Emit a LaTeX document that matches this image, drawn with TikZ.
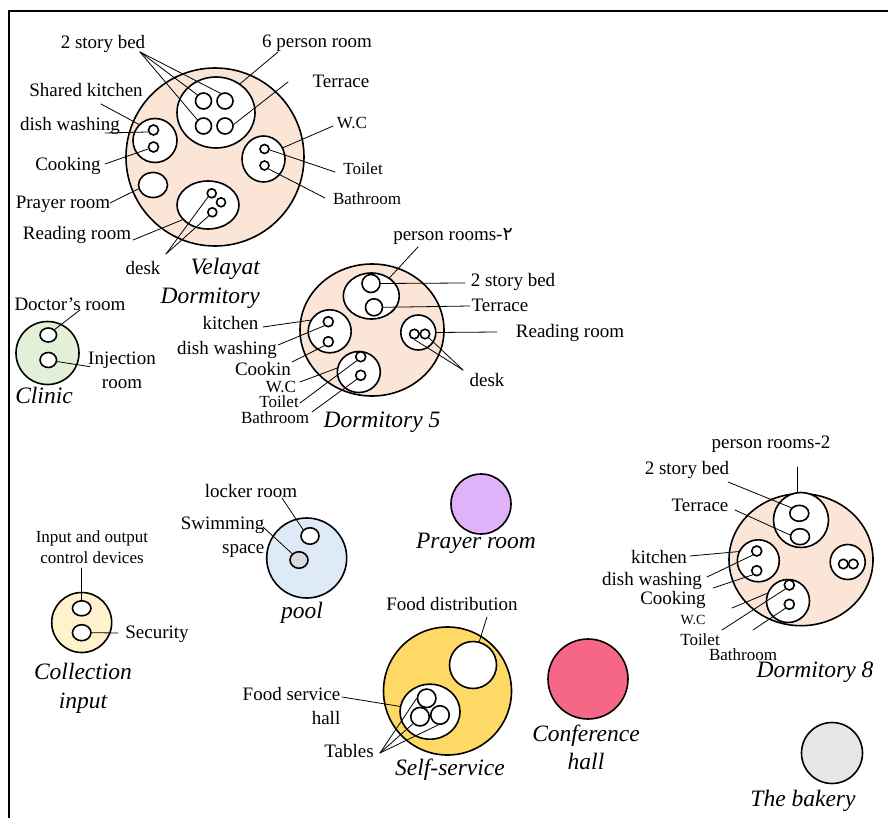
\documentclass[tikz,border=0pt]{standalone}
\usepackage{fontspec}
\setmainfont{Liberation Serif}
\newfontfamily\dvs{DejaVu Sans}
\usetikzlibrary{shapes.geometric}
\definecolor{peach}{RGB}{251,229,214}
\definecolor{mint}{RGB}{226,240,217}
\definecolor{cream}{RGB}{255,242,204}
\definecolor{skyb}{RGB}{222,235,247}
\definecolor{lilac}{RGB}{224,178,250}
\definecolor{gold}{RGB}{255,217,102}
\definecolor{rose}{RGB}{246,102,134}
\definecolor{ash}{RGB}{230,230,230}
\definecolor{stone}{RGB}{217,217,217}
\begin{document}
\begin{tikzpicture}[x=1pt,y=-1pt,line cap=round,
    rnd/.style={circle,draw,line width=1.6pt,inner sep=0pt,fill=white,minimum size=#1},
    ovl/.style 2 args={ellipse,draw,line width=1.6pt,inner sep=0pt,fill=white,minimum width=#1,minimum height=#2},
    lbl/.style={font=\fontsize{19}{24}\selectfont,inner sep=0.5pt,yshift=-2.5pt},
    sml/.style={font=\fontsize{17}{21}\selectfont,inner sep=0.5pt,yshift=-2.5pt},
    ttl/.style={font=\fontsize{23.5}{28.5}\selectfont\itshape,inner sep=1pt,yshift=-1.5pt},
    lead/.style={line width=0.8pt}]
  \useasboundingbox (0,0) rectangle (888,818);
  \draw[line width=1.2pt] (9,818) -- (9,11) -- (888,11);

  % Velayat dormitory
  \node[rnd=178,fill=peach] (vel) at (215,157) {};
  \node[ovl={78}{71}] (vel6) at (216,112.5) {};
  \node[rnd=16] (vbA) at (203.5,101) {};
  \node[rnd=16] (vbB) at (225,101) {};
  \node[rnd=16] (vbC) at (203.5,126) {};
  \node[rnd=16] (vbD) at (225,126) {};
  \node[rnd=44] (vk) at (155,140.5) {};
  \node[rnd=10] (vk1) at (153.5,130) {};
  \node[rnd=10] (vk2) at (153.5,147) {};
  \node[ovl={29}{25}] (vp) at (153,185) {};
  \node[ovl={43}{46}] (vw) at (263.5,159) {};
  \node[rnd=9] (vw1) at (264.5,149) {};
  \node[rnd=9] (vw2) at (264.5,165.5) {};
  \node[ovl={62}{48}] (vr) at (208,205) {};
  \node[rnd=9] (vd1) at (211.7,193.3) {};
  \node[rnd=9] (vd2) at (221,202.3) {};
  \node[rnd=9] (vd3) at (212.3,212.3) {};

  \node[lbl] (vlBed) at (103,41) {2 story bed};
  \node[lbl] (vl6) at (317,41) {6 person room};
  \node[lbl] (vlTer) at (341,79) {Terrace};
  \node[lbl] (vlShk) at (86,88) {Shared kitchen};
  \node[lbl] (vlDish) at (70,123) {dish washing};
  \node[lbl] (vlCook) at (68,163) {Cooking};
  \node[lbl] (vlPray) at (63,202) {Prayer room};
  \node[lbl] (vlRead) at (77,232) {Reading room};
  \node[lbl] (vlDesk) at (143,266) {desk};
  \node[sml] (vlWC) at (352,121) {W.C};
  \node[sml] (vlToi) at (363,166) {Toilet};
  \node[sml] (vlBath) at (367,196) {Bathroom};
  \node[ttl,align=right,anchor=east] (velT) at (261,282) {Velayat\\Dormitory};

  \coordinate (vBedT) at (140,52);
  \coordinate (v6T) at (278,52);
  \coordinate (vTerT) at (288,82);
  \coordinate (vShkT) at (101,104);
  \coordinate (vDishT) at (105,133);
  \coordinate (vCookT) at (105,164);
  \coordinate (vPrayT) at (110,203);
  \coordinate (vReadT) at (133,240);
  \coordinate (vDeskT) at (166,254);
  \coordinate (vWCT) at (333,126);
  \coordinate (vToiT) at (335,172);
  \coordinate (vBathT) at (325,198);
  \draw[lead] (vBedT) -- (vbA.north west);
  \draw[lead] (vBedT) -- (vbB.120);
  \draw[lead] (vBedT) -- (vbC.north west);
  \draw[lead] (v6T) -- (vel6.50);
  \draw[lead] (vTerT) -- (vbD.10);
  \draw[lead] (vShkT) -- (vk.north west);
  \draw[lead] (vDishT) -- (vk1.200);
  \draw[lead] (vCookT) -- (vk2.200);
  \draw[lead] (vPrayT) -- (vp.195);
  \draw[lead] (vReadT) -- (vr.210);
  \draw[lead] (vDeskT) -- (vd1.225);
  \draw[lead] (vDeskT) -- (vd3.225);
  \draw[lead] (vWCT) -- (vw.30);
  \draw[lead] (vToiT) -- (vw1.-10);
  \draw[lead] (vBathT) -- (vw2.-40);

  % Dormitory 5
  \node[ovl={144}{132},fill=peach] (d5) at (372,330) {};
  \node[ovl={56}{46}] (d5r) at (371.3,296) {};
  \node[rnd=18] (d5b1) at (371,283.5) {};
  \node[rnd=17] (d5b2) at (374,307.3) {};
  \node[rnd=43] (d5k) at (329.7,331.3) {};
  \node[rnd=10] (d5k1) at (328.3,321.7) {};
  \node[rnd=10] (d5k2) at (328.3,341.7) {};
  \node[rnd=35] (d5rd) at (418.3,332.5) {};
  \node[rnd=9.5] (d5d1) at (414.3,334) {};
  \node[rnd=9.5] (d5d2) at (425,334) {};
  \node[ovl={43}{41}] (d5w) at (358.8,372) {};
  \node[rnd=10] (d5w1) at (360.7,356.7) {};
  \node[rnd=10] (d5w2) at (360.7,375.3) {};

  \node[lbl] (f5Per) at (453,234) {person rooms-{\dvs ۲}};
  \node[lbl] (f5Bed) at (513,279) {2 story bed};
  \node[lbl] (f5Ter) at (500,303) {Terrace};
  \node[lbl] (f5Read) at (570,330) {Reading room};
  \node[lbl] (f5Desk) at (487,377) {desk};
  \node[lbl] (f5Kit) at (230.5,321) {kitchen};
  \node[lbl] (f5Dish) at (227,347) {dish washing};
  \node[lbl] (f5Cook) at (263,366) {Cookin};
  \node[sml] (f5WC) at (281,384) {W.C};
  \node[sml] (f5Toi) at (279,399.5) {Toilet};
  \node[sml] (f5Bath) at (275,415.5) {Bathroom};
  \node[ttl] (d5T) at (382,421) {Dormitory 5};

  \coordinate (f5PerT) at (418,247);
  \coordinate (f5BedT) at (465,283);
  \coordinate (f5TerT) at (470,306);
  \coordinate (f5ReadT) at (497,332);
  \coordinate (f5DeskT) at (463,370);
  \coordinate (f5KitT) at (263,327);
  \coordinate (f5DishT) at (278,345);
  \coordinate (f5CookT) at (292,362);
  \coordinate (f5WCT) at (300,382);
  \coordinate (f5ToiT) at (300,403);
  \coordinate (f5BathT) at (312,412);
  \draw[lead] (f5PerT) -- (d5r.45);
  \draw[lead] (d5b1.east) -- (f5BedT);
  \draw[lead] (d5b2.east) -- (f5TerT);
  \draw[lead] (d5rd.east) -- (f5ReadT);
  \draw[lead] (f5DeskT) -- (d5d1.south);
  \draw[lead] (f5DeskT) -- (d5d2.-45);
  \draw[lead] (f5KitT) -- (d5k.150);
  \draw[lead] (f5DishT) -- (d5k1.225);
  \draw[lead] (f5CookT) -- (d5k2.225);
  \draw[lead] (f5WCT) -- (d5w.170);
  \draw[lead] (f5ToiT) -- (d5w1.225);
  \draw[lead] (f5BathT) -- (d5w2.225);

  % Clinic
  \node[rnd=63,fill=mint] (cl) at (47.5,353) {};
  \node[ovl={16.5}{14}] (cl1) at (48.3,335) {};
  \node[ovl={16.5}{15}] (cl2) at (48.3,360) {};
  \node[lbl] (clDoc) at (70,302) {Doctor's room};
  \node[lbl,align=center] (clInj) at (122,368) {Injection\\room};
  \node[ttl] (clT) at (44,394) {Clinic};
  \coordinate (clDocT) at (80,310);
  \coordinate (clInjT) at (90,366.7);
  \draw[lead] (clDocT) -- (cl1.north east);
  \draw[lead] (clInjT) -- (cl2.-10);

  % Collection input
  \node[rnd=60,fill=cream] (ci) at (81.7,622.5) {};
  \node[ovl={18.5}{15}] (ci1) at (81.7,608.3) {};
  \node[ovl={18.5}{16}] (ci2) at (81.7,632.7) {};
  \node[sml,align=center] (ciDev) at (92,545) {Input and output\\control devices};
  \node[lbl] (ciSec) at (157,632) {Security};
  \node[ttl,align=center] (ciT) at (83,687) {Collection\\input};
  \coordinate (ciDevT) at (81.7,568);
  \coordinate (ciSecT) at (118,633);
  \draw[lead] (ciDevT) -- (ci1.north);
  \draw[lead] (ci2.east) -- (ciSecT);

  % pool
  \node[rnd=80,fill=skyb] (pl) at (306.7,558) {};
  \node[ovl={18}{16.5}] (pl1) at (310,536) {};
  \node[ovl={18}{16.5},fill=stone] (pl2) at (299,560) {};
  \node[lbl] (plLock) at (251,488) {locker room};
  \node[lbl,align=right,anchor=east] (plSwim) at (265,535) {Swimming\\space};
  \node[ttl] (plT) at (302,611) {pool};
  \coordinate (plLockT) at (282,498);
  \coordinate (plSwimT) at (263,527);
  \draw[lead] (plLockT) -- (pl1.north west);
  \draw[lead] (plSwimT) -- (pl2.north west);

  % Prayer room
  \node[rnd=60,fill=lilac] (pr) at (481,504) {};
  \node[ttl] (prT) at (476,542) {Prayer room};

  % Self-service
  \node[rnd=128,fill=gold] (ss) at (447.5,691) {};
  \node[rnd=47] (ssd) at (473,665) {};
  \node[ovl={60}{55}] (ssh) at (430,711.7) {};
  \node[rnd=18.5] (sst1) at (426.7,698.3) {};
  \node[rnd=18.5] (sst2) at (420,716.7) {};
  \node[rnd=18.5] (sst3) at (440,715) {};
  \node[lbl] (ssDist) at (452,601) {Food distribution};
  \node[lbl,align=right,anchor=east] (ssHall) at (341,703) {Food service\\hall};
  \node[lbl] (ssTab) at (349,748) {Tables};
  \node[ttl] (ssT) at (450,768) {Self-service};
  \coordinate (ssDistT) at (487,617);
  \coordinate (ssHallT) at (342,697);
  \coordinate (ssTabT) at (380,753);
  \draw[lead] (ssDistT) -- (ssd.75);
  \draw[lead] (ssHallT) -- (ssh.170);
  \draw[lead] (ssTabT) -- (sst1.180);
  \draw[lead] (ssTabT) -- (sst2.225);
  \draw[lead] (ssTabT) -- (sst3.260);

  % Conference hall
  \node[rnd=80,fill=rose] (cf) at (588,679) {};
  \node[ttl,align=center] (cfT) at (586,746) {Conference\\hall};

  % The bakery
  \node[rnd=61,fill=ash] (bk) at (832,753) {};
  \node[ttl] (bkT) at (803,799) {The bakery};

  % Dormitory 8
  \node[ovl={144}{132},fill=peach] (d8) at (801,559.7) {};
  \node[rnd=55] (d8r) at (801,520) {};
  \node[ovl={19}{16}] (d8b1) at (799.3,513.3) {};
  \node[ovl={19}{16}] (d8b2) at (800,536.7) {};
  \node[rnd=42] (d8k) at (758.3,560.8) {};
  \node[rnd=10] (d8k1) at (756.7,551) {};
  \node[rnd=10] (d8k2) at (756.7,570.7) {};
  \node[rnd=35] (d8x) at (847.7,562) {};
  \node[rnd=9.5] (d8x1) at (843.3,564) {};
  \node[rnd=9.5] (d8x2) at (853.3,564) {};
  \node[rnd=43] (d8w) at (788,601) {};
  \node[rnd=10] (d8w1) at (789.3,585) {};
  \node[rnd=10] (d8w2) at (789.3,604.3) {};

  \node[lbl] (e8Per) at (771,442) {person rooms-2};
  \node[lbl] (e8Bed) at (687,467) {2 story bed};
  \node[lbl] (e8Ter) at (700,503) {Terrace};
  \node[lbl] (e8Kit) at (659,554) {kitchen};
  \node[lbl] (e8Dish) at (652,578) {dish washing};
  \node[lbl] (e8Cook) at (673,597) {Cooking};
  \node[font=\fontsize{14}{16}\selectfont,inner sep=0.5pt,yshift=-2pt] (e8WC) at (693,618) {W.C};
  \node[sml] (e8Toi) at (700,637) {Toilet};
  \node[sml] (e8Bath) at (743,652) {Bathroom};
  \node[ttl] (d8T) at (815,671) {Dormitory 8};

  \coordinate (e8PerT) at (797.5,467);
  \coordinate (e8BedT) at (728,482);
  \coordinate (e8TerT) at (735,510);
  \coordinate (e8KitT) at (690,556);
  \coordinate (e8DishT) at (707,577);
  \coordinate (e8CookT) at (713,588);
  \coordinate (e8WCT) at (732,608);
  \coordinate (e8ToiT) at (722,630);
  \coordinate (e8BathT) at (753,630);
  \draw[lead] (e8PerT) -- (e8PerT |- d8r.north);
  \draw[lead] (e8BedT) -- (d8b1.145);
  \draw[lead] (e8TerT) -- (d8b2.170);
  \draw[lead] (e8KitT) -- (d8k.155);
  \draw[lead] (e8DishT) -- (d8k1.225);
  \draw[lead] (e8CookT) -- (d8k2.225);
  \draw[lead] (e8WCT) -- (d8w.160);
  \draw[lead] (e8ToiT) -- (d8w1.225);
  \draw[lead] (e8BathT) -- (d8w2.225);
\end{tikzpicture}
\end{document}
